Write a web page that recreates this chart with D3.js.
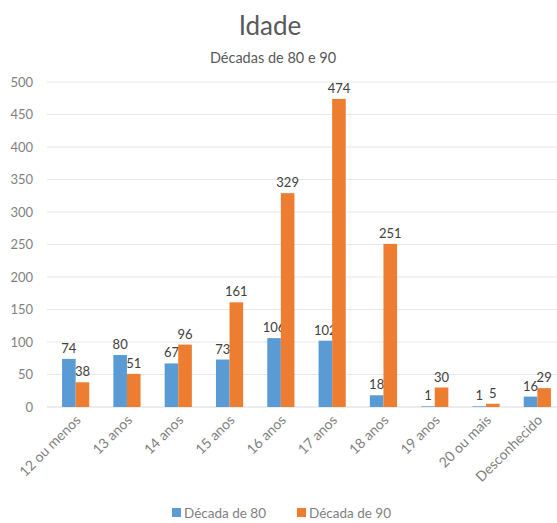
<!DOCTYPE html>
<html><head><meta charset="utf-8">
<script src="https://cdn.jsdelivr.net/npm/d3@7"></script>
<style>body{margin:0;background:#fff}svg{display:block}text{font-family:Lato,"Open Sans",sans-serif}</style>
</head><body>
<svg id="c" width="557" height="523"></svg>
<script>
const categories = ["12 ou menos","13 anos","14 anos","15 anos","16 anos","17 anos","18 anos","19 anos","20 ou mais","Desconhecido"];
const seriesNames = ["Década de 80","Década de 90"];
const decada80 = [74,80,67,73,106,102,18,1,1,16];
const decada90 = [38,51,96,161,329,474,251,30,5,29];
const yTicks = [0,50,100,150,200,250,300,350,400,450,500];
const colors = ["#5B9BD5","#ED7D31"];

(function(){
const svg = d3.select("#c");
const pL = 50, pR = 563, pT = 82, pB = 407;
const x = d3.scaleBand().domain(categories).range([pL,pR]).paddingInner(0.47).paddingOuter(0.235);
const xs = d3.scaleBand().domain([0,1]).range([0,x.bandwidth()]);
const y = d3.scaleLinear().domain([0,500]).range([pB,pT]);

svg.append("text").attr("x",270).attr("y",35).attr("text-anchor","middle").attr("font-size",26).attr("fill","#595959").text("Idade");
svg.append("text").attr("x",273).attr("y",63).attr("text-anchor","middle").attr("font-size",14.5).attr("fill","#595959").text("Décadas de 80 e 90");

const g = svg.append("g");
g.selectAll("line.grid").data(yTicks).join("line")
  .attr("x1",47).attr("x2",557).attr("y1",d=>y(d)).attr("y2",d=>y(d))
  .attr("stroke",d=>d===0?"#d9d9d9":"#e6e6e6").attr("stroke-width",1);
g.selectAll("text.yt").data(yTicks).join("text")
  .attr("x",33).attr("y",d=>y(d)+4.5).attr("text-anchor","end").attr("font-size",13).attr("fill","#7f7f7f").text(d=>d);

const data = [decada80, decada90];
data.forEach((vals,si)=>{
  g.selectAll(null).data(vals).join("rect")
    .attr("x",(d,i)=>x(categories[i])+xs(si)).attr("width",xs.bandwidth())
    .attr("y",d=>y(d)).attr("height",d=>pB-y(d)).attr("fill",colors[si]);
  g.selectAll(null).data(vals).join("text")
    .attr("x",(d,i)=>x(categories[i])+xs(si)+xs.bandwidth()/2).attr("y",d=>y(d)-6)
    .attr("text-anchor","middle").attr("font-size",13).attr("fill","#404040").text(d=>d);
});

g.selectAll("text.xl").data(categories).join("text")
  .attr("transform",d=>`translate(${x(d)+x.bandwidth()/2+6},${pB+14}) rotate(-45)`)
  .attr("text-anchor","end").attr("font-size",14).attr("fill","#7f7f7f").text(d=>d);

const lg = svg.append("g");
const lx = [172, 297];
seriesNames.forEach((n,i)=>{
  lg.append("rect").attr("x",lx[i]).attr("y",508).attr("width",9).attr("height",9).attr("fill",colors[i]);
  lg.append("text").attr("x",lx[i]+12).attr("y",518).attr("font-size",13.5).attr("fill","#7f7f7f").text(n);
});
})();
</script>
</body></html>
